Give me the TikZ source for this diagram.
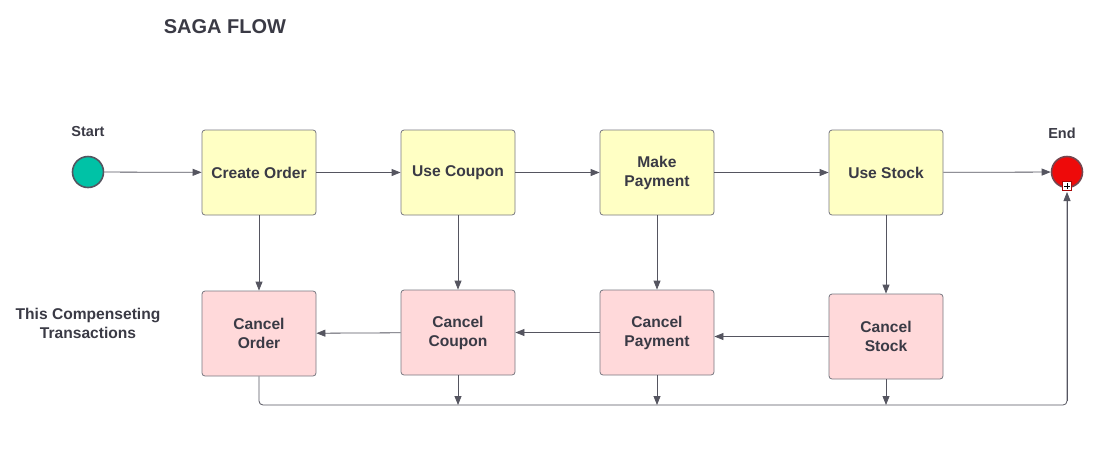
\documentclass[tikz,border=0pt]{standalone}
\usepackage{fontspec}
\setmainfont{Liberation Sans}
\usetikzlibrary{arrows.meta}
\definecolor{txt}{HTML}{3A3A45}
\definecolor{ln}{HTML}{555560}
\definecolor{yel}{HTML}{FFFFC4}
\definecolor{pnk}{HTML}{FFD9DA}
\definecolor{teal}{HTML}{00C2A6}
\definecolor{rd}{HTML}{EE0A0A}
\begin{document}
\begin{tikzpicture}[x=1pt,y=-1pt,
  box/.style={draw=ln!80, line width=0.8pt, rounded corners=3pt, minimum width=114pt, minimum height=85pt, align=center, font=\fontsize{15.6}{19}\selectfont\bfseries, text=txt, inner sep=0pt},
  yb/.style={box, fill=yel},
  pb/.style={box, fill=pnk},
  lbl/.style={font=\fontsize{15.6}{19}\selectfont\bfseries, text=txt, align=center},
  conn/.style={draw=ln, line width=0.8pt, -{Triangle[length=9pt,width=7pt]}},
  plain/.style={draw=ln, line width=0.8pt}
]
\useasboundingbox (0,0) rectangle (1115,472);
\node[lbl, font=\fontsize{20}{24}\selectfont\bfseries] (title) at (225,27) {SAGA FLOW};
\node[lbl, font=\fontsize{14.5}{18}\selectfont\bfseries] (startlbl) at (88,132) {Start};
\node[lbl, font=\fontsize{14.5}{18}\selectfont\bfseries] (endlbl) at (1062,133) {End};
\node[lbl] (comp) at (88,323) {This Compenseting\\Transactions};
\node[circle, draw=ln, line width=1.6pt, fill=teal, minimum size=31pt, inner sep=0pt] (start) at (88,172) {};
\node[circle, draw=ln!80!rd, line width=1.6pt, fill=rd, minimum size=31pt, inner sep=0pt] (end) at (1067,172) {};
\node[yb] (co) at (259,172.5) {Create Order};
\node[yb] (uc) at (458,172.5) {Use Coupon};
\node[yb] (mp) at (657,172.5) {Make\\Payment};
\node[yb] (us) at (886,172.5) {Use Stock};
\node[pb] (cco) at (259,333.5) {Cancel\\Order};
\node[pb] (ccc) at (458,332.5) {Cancel\\Coupon};
\node[pb] (ccp) at (657,332.5) {Cancel\\Payment};
\node[pb] (ccs) at (886,336.5) {Cancel\\Stock};
\coordinate (bl) at (259,405);
\coordinate (br) at (1067,405);
\coordinate (b2) at (458,405);
\coordinate (b3) at (657,405);
\coordinate (b4) at (886,405);
\draw[conn] (start) -- (co);
\draw[conn] (co) -- (uc);
\draw[conn] (uc) -- (mp);
\draw[conn] (mp) -- (us);
\draw[conn] (us) -- (end);
\draw[conn] (co) -- (cco);
\draw[conn] (uc) -- (ccc);
\draw[conn] (mp) -- (ccp);
\draw[conn] (us) -- (ccs);
\draw[conn] (ccs.west) -- (ccs.west -| ccp.east);
\draw[conn] (ccp) -- (ccc);
\draw[conn] (ccc) -- (cco);
\draw[plain, rounded corners=4pt] (cco.south) -- (bl) -- (br) -- ([yshift=0pt]end.south |- 0,196);
\draw[conn] (br) ++(0,-4) -- (1067,192);
\draw[conn] (ccc) -- (b2);
\draw[conn] (ccp) -- (b3);
\draw[conn] (ccs) -- (b4);
\node[draw=rd!70!black, fill=white, line width=0.6pt, minimum size=9pt, inner sep=0pt] (plus) at (1067,186) {};
\draw[black, line width=1pt] (plus.center) ++(-3,0) -- ++(6,0) (plus.center) ++(0,-3) -- ++(0,6);
\end{tikzpicture}
\end{document}
